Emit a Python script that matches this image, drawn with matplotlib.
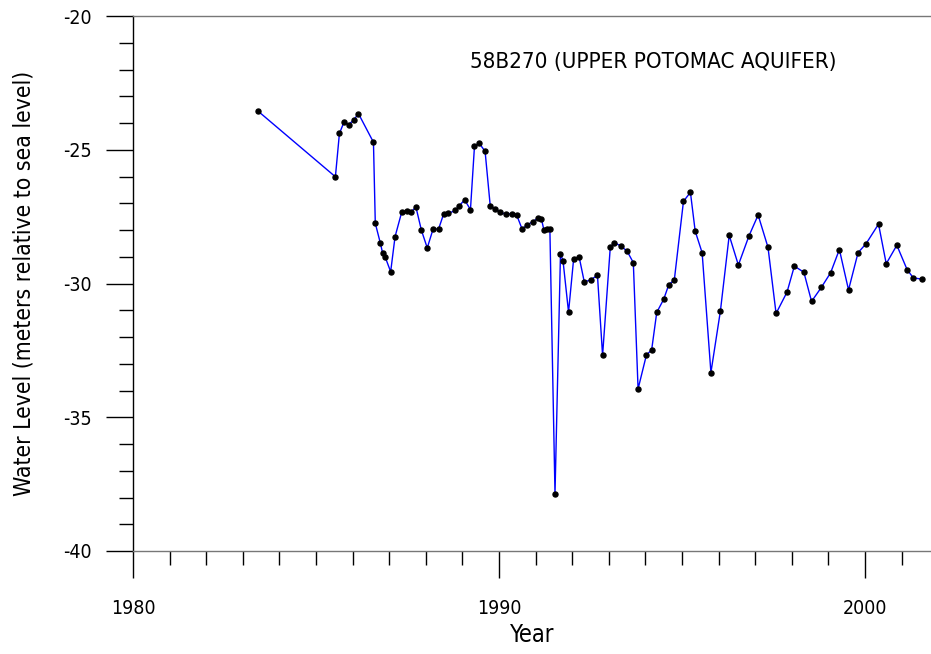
import matplotlib
matplotlib.use("Agg")
import matplotlib.pyplot as plt
from matplotlib.ticker import MultipleLocator, FixedLocator

plt.rcParams['axes.unicode_minus'] = False
plt.rcParams['font.family'] = ['DejaVu Sans']
plt.rcParams['font.stretch'] = 'condensed'

years = [1983.42, 1985.53, 1985.64, 1985.77, 1985.89, 1986.03, 1986.16, 1986.57, 1986.62, 1986.76,
         1986.82, 1986.89, 1987.04, 1987.16, 1987.34, 1987.48, 1987.59, 1987.73, 1987.88, 1988.04,
         1988.20, 1988.35, 1988.49, 1988.62, 1988.80, 1988.90, 1989.06, 1989.22, 1989.33, 1989.46,
         1989.62, 1989.76, 1989.88, 1990.04, 1990.18, 1990.35, 1990.48, 1990.63, 1990.77, 1990.92,
         1991.07, 1991.16, 1991.23, 1991.32, 1991.39, 1991.53, 1991.68, 1991.75, 1991.90, 1992.04,
         1992.19, 1992.33, 1992.50, 1992.69, 1992.83, 1993.04, 1993.15, 1993.33, 1993.50, 1993.67,
         1993.80, 1994.03, 1994.17, 1994.31, 1994.50, 1994.64, 1994.79, 1995.04, 1995.23, 1995.36,
         1995.55, 1995.79, 1996.05, 1996.29, 1996.54, 1996.83, 1997.08, 1997.35, 1997.57, 1997.87,
         1998.07, 1998.33, 1998.54, 1998.81, 1999.06, 1999.30, 1999.55, 1999.81, 2000.03, 2000.37,
         2000.58, 2000.87, 2001.15, 2001.32, 2001.57]
levels = [-23.56, -26.01, -24.39, -23.95, -24.06, -23.89, -23.65, -24.72, -27.75, -28.50,
          -28.86, -29.01, -29.56, -28.25, -27.34, -27.29, -27.34, -27.14, -28.01, -28.67,
          -27.96, -27.96, -27.39, -27.38, -27.27, -27.12, -26.87, -27.24, -24.87, -24.76,
          -25.06, -27.09, -27.21, -27.34, -27.41, -27.39, -27.43, -27.96, -27.81, -27.69,
          -27.55, -27.60, -28.01, -27.98, -27.96, -37.86, -28.88, -29.16, -31.07, -29.07,
          -29.01, -29.94, -29.87, -29.69, -32.69, -28.65, -28.47, -28.60, -28.79, -29.22,
          -33.94, -32.66, -32.49, -31.08, -30.59, -30.04, -29.87, -26.93, -26.59, -28.04,
          -28.85, -33.33, -31.02, -28.20, -29.31, -28.22, -27.44, -28.65, -31.12, -30.32,
          -29.35, -29.58, -30.67, -30.14, -29.60, -28.73, -30.24, -28.85, -28.51, -27.78,
          -29.26, -28.57, -29.48, -29.79, -29.84]

x_major = [1980, 1990, 2000]
x_labels = ["1980", "1990", "2000"]
y_major = [-40, -35, -30, -25, -20]
y_labels = ["-40", "-35", "-30", "-25", "-20"]
title = "58B270 (UPPER POTOMAC AQUIFER)"

fig = plt.figure(figsize=(9.31, 6.54), dpi=100)
ax = fig.add_axes([133/931, 1 - 551/654, 1 - 133/931, (551 - 16)/654])

ax.plot(years, levels, color='#0000ff', lw=1.0, zorder=2)
ax.plot(years, levels, 'o', color='black', ms=3.6, zorder=3)

ax.set_xlim(1980, 1980 + 798/36.6)
ax.set_ylim(-40, -20)

ax.xaxis.set_major_locator(FixedLocator(x_major))
ax.set_xticklabels(x_labels)
ax.xaxis.set_minor_locator(MultipleLocator(1))
ax.yaxis.set_major_locator(FixedLocator(y_major))
ax.set_yticklabels(y_labels)
ax.yaxis.set_minor_locator(MultipleLocator(1))

ax.tick_params(which='major', direction='out', length=19.5, width=1, color='black',
               labelsize=14)
ax.tick_params(axis='x', which='major', pad=15)
ax.tick_params(axis='y', which='major', pad=10)
ax.tick_params(which='minor', direction='out', length=10, width=1, color='black')

ax.spines['right'].set_visible(False)
ax.spines['left'].set_color('black')
ax.spines['top'].set_color('#777777')
ax.spines['bottom'].set_color('#777777')
for s in ax.spines.values():
    s.set_linewidth(1)

ax.set_xlabel("Year", fontsize=17, labelpad=4)
ax.set_ylabel("Water Level (meters relative to sea level)", fontsize=16.5, labelpad=20)
ax.text(0.4223, 0.914, title, transform=ax.transAxes, fontsize=16, ha='left', va='center')

fig.savefig("out.png", dpi=100)
